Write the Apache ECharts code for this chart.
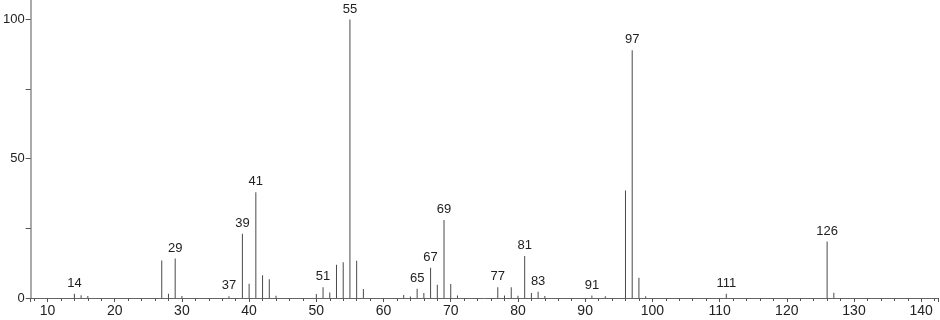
<!DOCTYPE html>
<html>
<head>
<meta charset="utf-8">
<script src="https://cdn.jsdelivr.net/npm/echarts@6/dist/echarts.min.js"></script>
<style>
html,body{margin:0;padding:0;background:#fff;}
#chart{width:940px;height:320px;}
</style>
</head>
<body>
<div id="chart"></div>
<script>
const mz = [14,15,16,27,28,29,30,37,39,40,41,42,43,44,50,51,52,53,54,55,56,57,63,64,65,66,67,68,69,70,71,77,78,79,80,81,82,83,84,91,93,96,97,98,99,111,126,127];
const intensity = [1.5,1.0,0.7,13.5,1.5,14.2,0.7,0.6,23.1,5.1,38.0,8.2,6.7,0.8,1.4,3.9,2.0,11.9,12.8,100,13.4,3.2,1.1,0.5,3.3,1.8,10.9,4.8,28.0,5.0,0.9,3.9,0.9,3.9,0.8,15.1,1.8,2.2,0.7,0.9,0.6,38.6,89.0,7.3,0.6,1.5,20.3,1.9];
const labeledPeaks = [14,29,37,39,41,51,55,65,67,69,77,81,83,91,97,111,126];
const xTickLabels = [10,20,30,40,50,60,70,80,90,100,110,120,130,140];
const yTickLabels = [0,50,100];

const font = '"Liberation Sans", Arial, sans-serif';
const data = mz.map((m, i) => ({
  value: [m, intensity[i]],
  label: { show: labeledPeaks.indexOf(m) >= 0 }
}));

const chart = echarts.init(document.getElementById('chart'), null, {renderer: 'canvas'});
chart.setOption({
  animation: false,
  grid: { left: 28, right: 2, top: 0, bottom: 22, containLabel: false },
  xAxis: {
    type: 'value',
    min: 7.5,
    max: 142.5,
    splitNumber: 13,
    splitLine: { show: false },
    axisLine: { show: true, onZero: false, lineStyle: { color: '#666', width: 1 } },
    axisTick: { show: true, length: 4, lineStyle: { color: '#555' } },
    minorTick: { show: true, splitNumber: 5, length: 3, lineStyle: { color: '#555' } },
    axisLabel: {
      fontFamily: font, fontSize: 14, color: '#222', margin: 6,
      showMinLabel: false, showMaxLabel: false,
      formatter: v => (xTickLabels.indexOf(v) >= 0 ? String(v) : '')
    }
  },
  yAxis: {
    type: 'value',
    min: 0,
    max: 107,
    interval: 25,
    splitLine: { show: false },
    axisLine: { show: true, lineStyle: { color: '#aaa', width: 2 } },
    axisTick: { show: true, length: 5, lineStyle: { color: '#555' } },
    axisLabel: {
      fontFamily: font, fontSize: 13, color: '#222', margin: 6,
      showMaxLabel: false,
      formatter: v => (yTickLabels.indexOf(v) >= 0 ? String(v) : '')
    }
  },
  series: [{
    type: 'bar',
    barWidth: 1,
    itemStyle: { color: '#4a4a4a' },
    label: {
      show: false,
      position: 'top',
      distance: 4,
      fontFamily: font,
      fontSize: 13,
      color: '#222',
      formatter: p => String(p.value[0])
    },
    data: data
  }]
});
</script>
</body>
</html>
